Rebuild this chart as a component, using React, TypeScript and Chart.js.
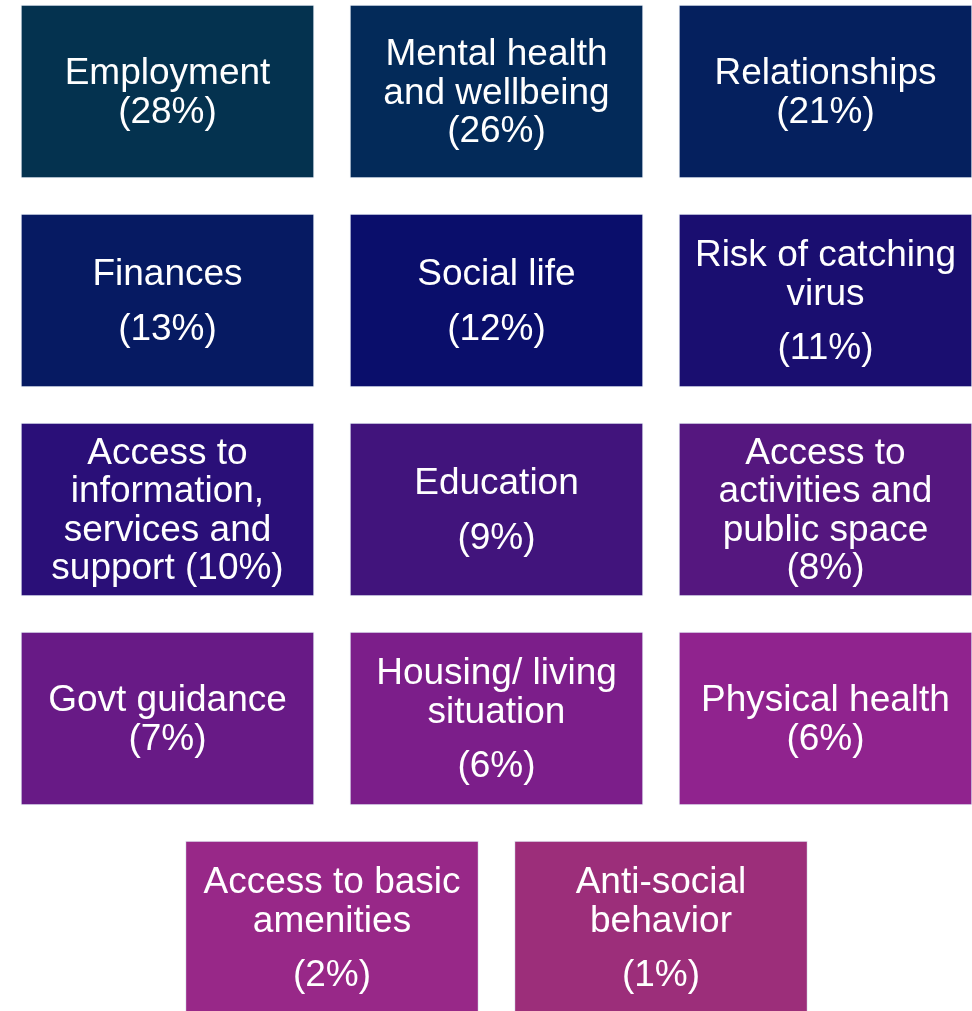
import React, { useEffect, useRef } from "react";
import { Chart, registerables } from "chart.js";

Chart.register(...registerables);

// ---- Data ----
const categoryLines: string[][] = [
  ["Employment"],
  ["Mental health", "and wellbeing"],
  ["Relationships"],
  ["Finances"],
  ["Social life"],
  ["Risk of catching", "virus"],
  ["Access to", "information,", "services and", "support"],
  ["Education"],
  ["Access to", "activities and", "public space"],
  ["Govt guidance"],
  ["Housing/ living", "situation"],
  ["Physical health"],
  ["Access to basic", "amenities"],
  ["Anti-social", "behavior"],
];
const percentages: number[] = [28, 26, 21, 13, 12, 11, 10, 9, 8, 7, 6, 6, 2, 1];
// how the percentage follows the name: new line, new paragraph, or same line
const percentPlacement: string[] = [
  "line", "line", "line",
  "para", "para", "para",
  "inline", "para", "line",
  "line", "para", "line",
  "para", "para",
];
const gridColumn: number[] = [0, 1, 2, 0, 1, 2, 0, 1, 2, 0, 1, 2, 0.5, 1.5];
const gridRow: number[] = [0, 0, 0, 1, 1, 1, 2, 2, 2, 3, 3, 3, 4, 4];
const tileColors: string[] = [
  "#04324F", "#032A59", "#05205E",
  "#061A62", "#0A0E6B", "#1A0E70",
  "#2A0F78", "#41147C", "#55177F",
  "#681A86", "#7C1E8A", "#90238E",
  "#982888", "#9C2E7A",
];

const FONT_SIZE = 37;
const LINE_H = 38.5;
const PARA_EXTRA = 16;

const labelPlugin = {
  id: "tileLabels",
  afterDatasetsDraw(chart: any) {
    const ctx = chart.ctx;
    const meta = chart.getDatasetMeta(0);
    ctx.save();
    ctx.fillStyle = "#ffffff";
    ctx.font = `${FONT_SIZE}px "Liberation Sans", Arial, sans-serif`;
    ctx.textAlign = "center";
    ctx.textBaseline = "middle";
    meta.data.forEach((el: any, i: number) => {
      const { x, y, base } = el.getProps(["x", "y", "base"], true);
      const cy = (y + base) / 2;
      const lines = categoryLines[i].slice();
      const pct = `(${percentages[i]}%)`;
      const gaps: number[] = [];
      const mode = percentPlacement[i];
      if (mode === "inline") {
        lines[lines.length - 1] = lines[lines.length - 1] + " " + pct;
      } else {
        lines.push(pct);
      }
      for (let k = 1; k < lines.length; k++) {
        let g = LINE_H;
        if (k === lines.length - 1 && mode === "para") g += PARA_EXTRA;
        gaps.push(g);
      }
      const total = gaps.reduce((a, b) => a + b, 0);
      let ly = cy - total / 2 + 2;
      lines.forEach((t, k) => {
        if (k > 0) ly += gaps[k - 1];
        ctx.fillText(t, x, ly);
      });
    });
    ctx.restore();
  },
};

export default function App() {
  const canvasRef = useRef<HTMLCanvasElement | null>(null);

  useEffect(() => {
    if (!canvasRef.current) return;
    const halfH = 0.4139;
    const chart = new Chart(canvasRef.current, {
      type: "bar",
      data: {
        datasets: [
          {
            data: percentages.map((_, i) => ({
              x: gridColumn[i],
              y: [gridRow[i] - halfH, gridRow[i] + halfH],
            })) as any,
            backgroundColor: tileColors,
            borderColor: "rgba(200,210,230,0.45)",
            borderWidth: 1,
            borderSkipped: false,
            barThickness: 293,
            maxBarThickness: 293,
          },
        ],
      },
      options: {
        animation: false,
        responsive: true,
        maintainAspectRatio: false,
        layout: { padding: 0 },
        events: [],
        plugins: {
          legend: { display: false },
          tooltip: { enabled: false },
          title: { display: false },
        },
        scales: {
          x: {
            type: "linear",
            display: false,
            offset: false,
            bounds: "ticks",
            min: -0.5091,
            max: 2.4453,
          },
          y: {
            type: "linear",
            display: false,
            reverse: true,
            offset: false,
            min: -0.4378,
            max: 4.3995,
          },
        },
      },
      plugins: [labelPlugin],
    });
    return () => chart.destroy();
  }, []);

  return (
    <div
      style={{
        position: "absolute",
        left: 0,
        top: 0,
        width: 972,
        height: 1011,
        background: "#ffffff",
      }}
    >
      <canvas ref={canvasRef} />
    </div>
  );
}
